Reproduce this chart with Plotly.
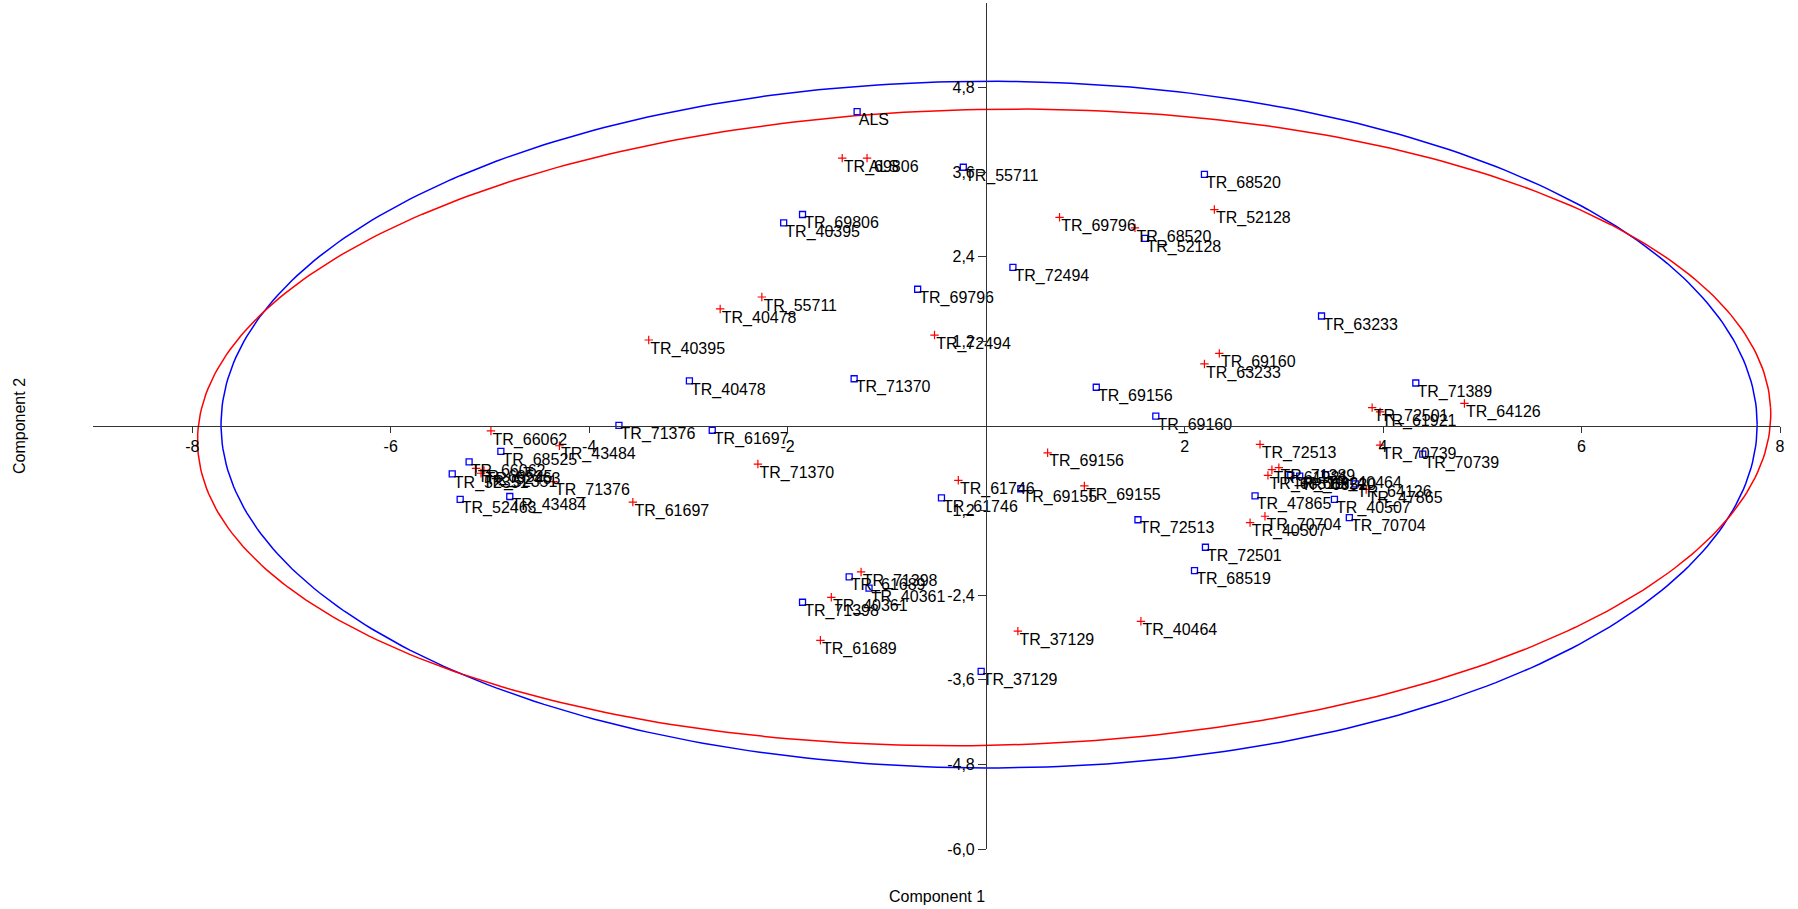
import numpy as np
import plotly.graph_objects as go

# ---- data ----
red_labels = ["TR_69806", "ALS", "TR_55711", "TR_40478", "TR_40395", "TR_69796", "TR_68520",
              "TR_52128", "TR_72494", "TR_69160", "TR_63233", "TR_72501", "TR_61921", "TR_64126",
              "TR_66062", "TR_43484", "TR_71370", "TR_61697", "TR_68525", "TR_52463", "TR_52351",
              "TR_71376", "TR_71398", "TR_40361", "TR_61689", "TR_72513", "TR_70739", "TR_69156",
              "TR_61746", "TR_69155", "TR_70704", "TR_40507", "TR_40464", "TR_37129", "TR_71389",
              "TR_47865", "TR_61921", "TR_68519"]
red_x = [-1.45, -1.20, -2.26, -2.68, -3.40, 0.74, 1.50, 2.30, -0.52, 2.35, 2.20, 3.89, 3.97, 4.82,
         -4.99, -4.30, -2.30, -3.56, -5.14, -5.06, -5.09, -4.36, -1.26, -1.56, -1.67, 2.76, 3.97,
         0.62, -0.28, 0.99, 2.81, 2.66, 1.56, 0.32, 2.95, 3.83, 2.88, 2.84]
red_y = [3.80, 3.80, 1.83, 1.66, 1.22, 2.96, 2.81, 3.07, 1.29, 1.03, 0.88, 0.26, 0.20, 0.32,
         -0.07, -0.28, -0.54, -1.08, -0.60, -0.63, -0.67, -0.79, -2.07, -2.43, -3.04, -0.26, -0.27,
         -0.38, -0.77, -0.85, -1.28, -1.37, -2.77, -2.91, -0.59, -0.90, -0.62, -0.70]

blue_labels = ["ALS", "TR_55711", "TR_68520", "TR_69806", "TR_40395", "TR_52128", "TR_72494",
               "TR_69796", "TR_63233", "TR_69156", "TR_71389", "TR_69160", "TR_40478", "TR_71370",
               "TR_71376", "TR_61697", "TR_68525", "TR_66062", "TR_52351", "TR_52463", "TR_43484",
               "TR_61689", "TR_40361", "TR_71398", "TR_70739", "TR_61746", "TR_69155", "TR_72513",
               "TR_47865", "TR_40507", "TR_70704", "TR_72501", "TR_68519", "TR_37129", "TR_40464",
               "TR_64126", "TR_61921", "TR_68520"]
blue_x = [-1.30, -0.23, 2.20, -1.85, -2.04, 1.60, 0.27, -0.69, 3.38, 1.11, 4.33, 1.71, -2.99, -1.33,
          -3.70, -2.76, -4.89, -5.21, -5.38, -5.30, -4.80, -1.38, -1.18, -1.85, 4.40, -0.45, 0.35,
          1.53, 2.71, 3.51, 3.66, 2.21, 2.10, -0.05, 3.42, 3.72, 3.07, 3.16]
blue_y = [4.46, 3.67, 3.57, 3.00, 2.88, 2.66, 2.25, 1.94, 1.56, 0.55, 0.61, 0.14, 0.64, 0.67,
          0.01, -0.06, -0.36, -0.51, -0.68, -1.04, -1.00, -2.14, -2.30, -2.50, -0.40, -1.02, -0.89,
          -1.33, -0.99, -1.04, -1.30, -1.72, -2.05, -3.48, -0.69, -0.82, -0.70, -0.71]

# 95% ellipses: centre x, centre y, semi-axis x, semi-axis y, tilt (deg)
red_ellipse = [-0.02, -0.02, 7.93, 4.51, 2.0]
blue_ellipse = [0.03, 0.02, 7.74, 4.87, 0.0]

x_ticks = [-8, -6, -4, -2, 2, 4, 6, 8]
x_ticktext = ["-8", "-6", "-4", "-2", "2", "4", "6", "8"]
y_ticks = [4.8, 3.6, 2.4, 1.2, -1.2, -2.4, -3.6, -4.8, -6.0]
y_ticktext = ["4,8", "3,6", "2,4", "1,2", "-1,2", "-2,4", "-3,6", "-4,8", "-6,0"]

X_RANGE = [-9.0, 8.0]
Y_RANGE = [-6.0, 6.0]

FONT = "Liberation Sans, Arial, sans-serif"


def ellipse(params, n=400):
    cx, cy, a, b, ang = params
    t = np.linspace(0, 2 * np.pi, n)
    th = np.deg2rad(ang)
    ex = a * np.cos(t)
    ey = b * np.sin(t)
    return cx + ex * np.cos(th) - ey * np.sin(th), cy + ex * np.sin(th) + ey * np.cos(th)


fig = go.Figure()

bx, by = ellipse(blue_ellipse)
rx, ry = ellipse(red_ellipse)
fig.add_trace(go.Scatter(x=bx, y=by, mode="lines", line=dict(color="#0000FF", width=1.5),
                         hoverinfo="skip", showlegend=False))
fig.add_trace(go.Scatter(x=rx, y=ry, mode="lines", line=dict(color="#FF0000", width=1.5),
                         hoverinfo="skip", showlegend=False))

# markers
fig.add_trace(go.Scatter(
    x=blue_x, y=blue_y, mode="markers", text=blue_labels,
    marker=dict(symbol="square-open", size=6, color="#0000FF", line=dict(width=1.3, color="#0000FF")),
    showlegend=False, cliponaxis=False))
fig.add_trace(go.Scatter(
    x=red_x, y=red_y, mode="markers", text=red_labels,
    marker=dict(symbol="cross-thin", size=6, color="#FF0000", line=dict(width=1.2, color="#FF0000")),
    showlegend=False, cliponaxis=False))

# labels (placed just below-right of each point)
for xs, ys, labs in ((blue_x, blue_y, blue_labels), (red_x, red_y, red_labels)):
    fig.add_trace(go.Scatter(
        x=xs, y=ys, mode="markers+text", text=labs, textposition="bottom right",
        textfont=dict(family=FONT, size=16, color="black"),
        marker=dict(size=1, color="rgba(0,0,0,0)"),
        hoverinfo="skip", showlegend=False, cliponaxis=False))

x_pos = (0 - Y_RANGE[0]) / (Y_RANGE[1] - Y_RANGE[0])
y_pos = (0 - X_RANGE[0]) / (X_RANGE[1] - X_RANGE[0])

fig.update_layout(
    width=1798, height=909,
    margin=dict(l=93, r=18, t=3, b=60),
    paper_bgcolor="white", plot_bgcolor="white",
    font=dict(family=FONT, size=16, color="black"),
    xaxis=dict(range=X_RANGE, anchor="free", position=x_pos, showline=True, linecolor="#333333",
               linewidth=1.3, ticks="outside", ticklen=6, tickcolor="#333333", tickwidth=1,
               tickvals=x_ticks, ticktext=x_ticktext, showgrid=False, zeroline=False,
               tickfont=dict(family=FONT, size=16, color="black")),
    yaxis=dict(range=Y_RANGE, anchor="free", position=y_pos, showline=True, linecolor="#333333",
               linewidth=1.3, ticks="outside", ticklen=8, tickcolor="#333333", tickwidth=1,
               tickvals=y_ticks, ticktext=y_ticktext, showgrid=False, zeroline=False,
               tickfont=dict(family=FONT, size=16, color="black")),
    annotations=[
        dict(text="Component 1", xref="paper", yref="paper", x=0.5, y=0, yshift=-47,
             showarrow=False, xanchor="center", yanchor="middle",
             font=dict(family=FONT, size=16, color="black")),
        dict(text="Component 2", xref="paper", yref="paper", x=0, y=0.5, xshift=-74,
             showarrow=False, textangle=-90, xanchor="center", yanchor="middle",
             font=dict(family=FONT, size=16, color="black")),
    ],
)

fig.write_html("out.html", config={"displayModeBar": False},
               post_script="document.body.style.margin='0';document.body.style.padding='0';")
